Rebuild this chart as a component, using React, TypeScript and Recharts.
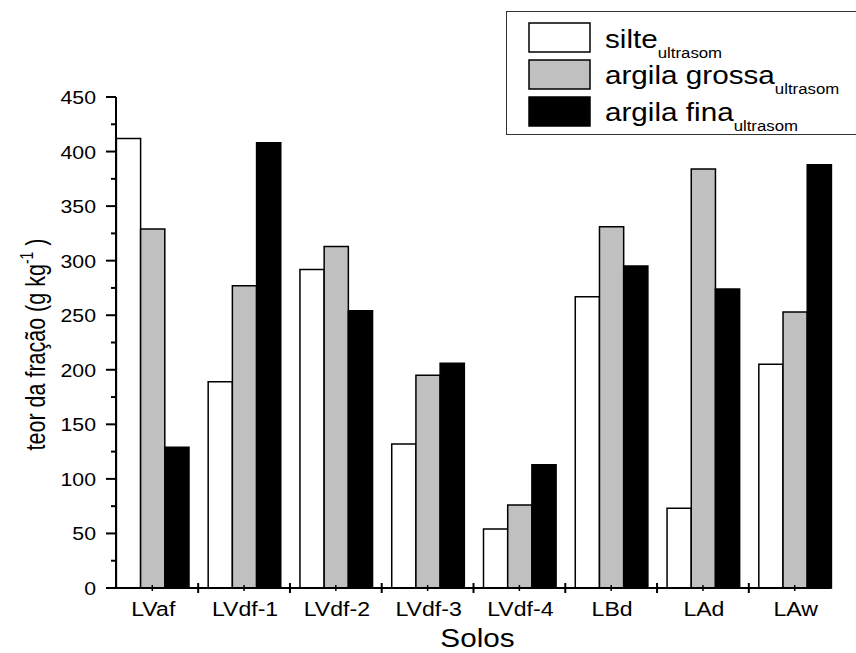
import { Bar, BarChart, Legend, XAxis, YAxis } from "recharts";

const FONT = "'Liberation Sans', Arial, sans-serif";
// the source figure is slightly stretched horizontally, so text is widened to match
const SX = 1.12;
const wide = (x: number, y: number, k = SX) => `translate(${x} ${y}) scale(${k} 1) translate(${-x} ${-y})`;

const solos = ["LVaf", "LVdf-1", "LVdf-2", "LVdf-3", "LVdf-4", "LBd", "LAd", "LAw"];
const silte = [412, 189, 292, 132, 54, 267, 73, 205];
const argilaGrossa = [329, 277, 313, 195, 76, 331, 384, 253];
const argilaFina = [129, 408, 254, 206, 113, 295, 274, 388];
const yTicks = [0, 25, 50, 75, 100, 125, 150, 175, 200, 225, 250, 275, 300, 325, 350, 375, 400, 425, 450];

const series = [
  { key: "silte", name: "silte", fill: "#ffffff" },
  { key: "grossa", name: "argila grossa", fill: "#c0c0c0" },
  { key: "fina", name: "argila fina", fill: "#000000" }
];

const data = solos.map((solo, i) => ({
  solo,
  silte: silte[i],
  grossa: argilaGrossa[i],
  fina: argilaFina[i]
}));

function YTick({ x, y, payload }: any) {
  const major = payload.value % 50 === 0;
  return (
    <g>
      <line x1={x - (major ? 10 : 5)} x2={x} y1={y} y2={y} stroke="#000" strokeWidth={2} />
      {major && (
        <text
          x={x - 20}
          y={y}
          dy={7}
          transform={wide(x - 20, y)}
          textAnchor="end"
          fontSize={19}
          fontFamily={FONT}
          fill="#000"
        >
          {payload.value}
        </text>
      )}
    </g>
  );
}

function XTick({ x, y, payload, index }: any) {
  const half = payload.offset || 45.9;
  return (
    <g>
      <line x1={x} x2={x} y1={y - 3} y2={y + 3} stroke="#000" strokeWidth={1.5} />
      {index < solos.length - 1 && (
        <line x1={x + half} x2={x + half} y1={y - 5} y2={y + 5} stroke="#000" strokeWidth={2} />
      )}
      <text
        x={x + 1}
        y={y}
        dy={28}
        transform={wide(x + 1, y, 1.1)}
        textAnchor="middle"
        fontSize={21}
        fontFamily={FONT}
        fill="#000"
      >
        {payload.value}
      </text>
    </g>
  );
}

const yTitle = (props: any) => {
  const vb = props.viewBox ?? { x: 0, y: 97, width: 116, height: 491 };
  const cx = vb.x + 45;
  const cy = vb.y + vb.height / 2 + 2;
  return (
    <g transform={`translate(${cx} ${cy}) scale(1.25 1) rotate(-90)`}>
      <text x={0} y={0} textAnchor="middle" fontSize={21.5} fontFamily={FONT} fill="#000">
        teor da fração (g kg<tspan fontSize={14} dy={-10}>-1</tspan>
        <tspan dy={10}> )</tspan>
      </text>
    </g>
  );
};

const xTitle = (props: any) => {
  const vb = props.viewBox ?? { x: 116, y: 588, width: 715, height: 40 };
  const cx = vb.x + vb.width / 2 + 4;
  const cy = vb.y + 59;
  return (
    <text x={cx} y={cy} transform={wide(cx, cy)} textAnchor="middle" fontSize={26.5} fontFamily={FONT} fill="#000">
      Solos
    </text>
  );
};

function LegendBox() {
  return (
    <svg width={350} height={124} style={{ display: "block" }}>
      <rect x={0.5} y={0.5} width={360} height={123} fill="#fff" stroke="#333" strokeWidth={1} />
      {series.map((s, i) => (
        <g key={s.key}>
          <rect x={23} y={12 + i * 37} width={61} height={29} fill={s.fill} stroke="#000" strokeWidth={1.5} />
          <text
            x={99}
            y={37.3 + i * 36.2}
            transform={wide(99, 0)}
            fontSize={26.5}
            fontFamily={FONT}
            fill="#000"
          >
            {s.name}
            <tspan fontSize={15} dy={10}>ultrasom</tspan>
          </text>
        </g>
      ))}
    </svg>
  );
}

export default function App() {
  return (
    <div style={{ position: "absolute", left: 0, top: 0, background: "#fff" }}>
      <BarChart
        width={856}
        height={653}
        data={data}
        margin={{ top: 97, right: 25, bottom: 25, left: 0 }}
        barGap={0}
        barSize={24.2}
      >
        {series.map((s) => (
          <Bar
            key={s.key}
            dataKey={s.key}
            name={s.name}
            fill={s.fill}
            stroke="#000"
            strokeWidth={1.5}
            isAnimationActive={false}
          />
        ))}
        <XAxis
          dataKey="solo"
          padding={{ left: -9.6, right: -9.6 }}
          height={40}
          tickSize={0}
          tickMargin={0}
          tickLine={false}
          interval={0}
          axisLine={{ stroke: "#000", strokeWidth: 2 }}
          tick={(p: any) => <XTick {...p} />}
          label={{ content: xTitle }}
        />
        <YAxis
          domain={[0, 450]}
          ticks={yTicks}
          interval={0}
          width={116}
          tickSize={0}
          tickMargin={0}
          tickLine={false}
          axisLine={{ stroke: "#000", strokeWidth: 2 }}
          tick={(p: any) => <YTick {...p} />}
          label={{ content: yTitle }}
        />
        <Legend
          layout="vertical"
          align="center"
          verticalAlign="middle"
          wrapperStyle={{ left: 506, top: 11, width: 350, height: 124 }}
          content={() => <LegendBox />}
        />
      </BarChart>
    </div>
  );
}
